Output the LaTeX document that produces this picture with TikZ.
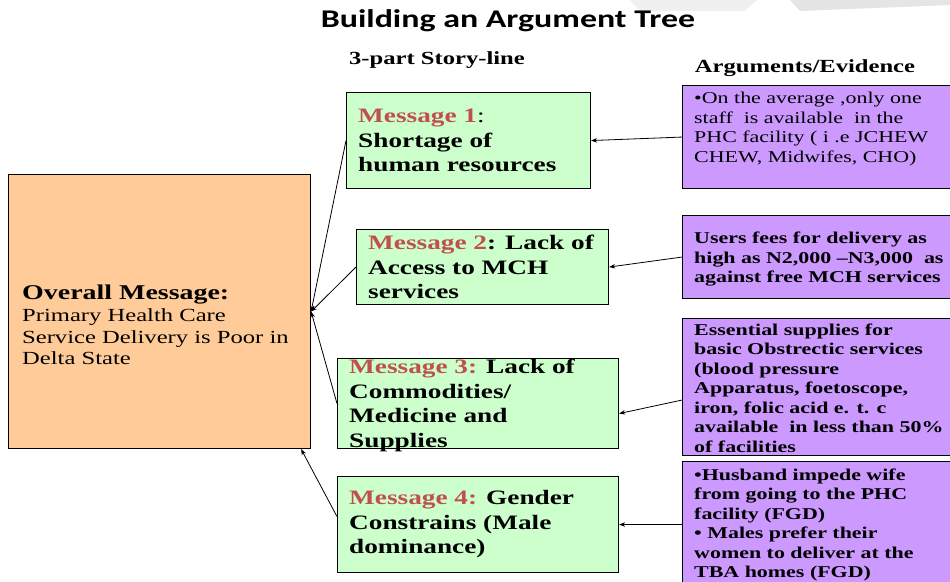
\documentclass[tikz,border=0pt]{standalone}
\usepackage{fontspec}
\newfontfamily\wideserif[FakeStretch=1.33]{Liberation Serif}
\newfontfamily\widesans[FakeStretch=1.33]{Carlito}
\usetikzlibrary{positioning,arrows.meta}
\definecolor{msggreen}{RGB}{204,255,204}
\definecolor{overallorange}{RGB}{255,204,153}
\definecolor{evpurple}{RGB}{204,153,255}
\definecolor{msgred}{RGB}{192,80,77}
\newcommand{\msg}[1]{\textcolor{msgred}{#1}}

\begin{document}
\begin{tikzpicture}
    [x=1pt, y=-1pt, >={Stealth[length=6pt,width=4.5pt]},
     box/.style={draw, line width=1.1pt, anchor=north west, inner sep=0pt},
     greenbox/.style={box, fill=msggreen},
     orangebox/.style={box, fill=overallorange},
     evbox/.style={box, fill=evpurple, minimum width=300pt},
     msgtext/.style={anchor=west, align=left, inner sep=0pt, font={\wideserif\bfseries\fontsize{20.5}{24.5}\selectfont}},
     evtext/.style={anchor=west, align=left, inner sep=0pt, font={\wideserif\bfseries\fontsize{16.5}{19.5}\selectfont}},
     head/.style={inner sep=0pt, font={\wideserif\bfseries\fontsize{18.5}{22}\selectfont}},
     link/.style={->, line width=0.8pt}]
  \useasboundingbox (0,0) rectangle (950,581);
  \clip (0,0) rectangle (950,581);

  % faint slide decoration, top right
  \fill[black!6] (630,0) -- (757,0) -- (745,11) -- (640,11) -- cycle;
  \fill[black!10] (790,0) -- (950,0) -- (950,5) -- (800,11) -- cycle;

  \node[inner sep=0pt, font={\widesans\bfseries\fontsize{25.5}{30}\selectfont}] (title) at (508,21) {Building an Argument Tree};
  \node[head] (story) at (437,60) {3-part Story-line};
  \node[head] (args) at (805,68) {Arguments/Evidence};

  % overall message
  \node[orangebox, minimum width=302pt, minimum height=274pt] (overall) at (8,174) {};
  \node[anchor=west, align=left, inner sep=0pt, font={\wideserif\fontsize{18.5}{21.5}\selectfont}] (overalltxt)
    at ([xshift=14pt,yshift=-13pt]overall.west)
    {{\bfseries\fontsize{21}{25}\selectfont Overall Message:}\\[1pt] Primary Health Care\\ Service Delivery is Poor in\\ Delta State};

  % story-line messages
  \node[greenbox, minimum width=244pt, minimum height=96pt] (m1) at (346,92) {};
  \node[greenbox, minimum width=252pt, minimum height=75pt] (m2) at (356,229) {};
  \node[greenbox, minimum width=281pt, minimum height=90pt] (m3) at (337,358) {};
  \node[greenbox, minimum width=281pt, minimum height=96pt] (m4) at (337,476) {};

  \node[msgtext] (t1) at ([xshift=12pt]m1.west) {\msg{Message 1}{\mdseries:}\\ Shortage of\\ human resources};
  \node[msgtext] (t2) at ([xshift=12pt]m2.west) {\msg{Message 2}: Lack of\\ Access to MCH\\ services};
  \node[msgtext] (t3) at ([xshift=12pt,yshift=-2pt]m3.west) {\msg{Message 3:} Lack of\\ Commodities/\\ Medicine and\\ Supplies};
  \node[msgtext] (t4) at ([xshift=12pt]m4.west) {\msg{Message 4:} Gender\\ Constrains (Male\\ dominance)};

  % evidence
  \node[evbox, minimum height=103pt] (e1) at (682,85) {};
  \node[evbox, minimum height=83pt] (e2) at (682,215) {};
  \node[evbox, minimum height=137pt] (e3) at (682,318) {};
  \node[evbox, minimum height=139pt] (e4) at (682,461) {};

  \node[evtext, font={\wideserif\fontsize{16.5}{19.5}\selectfont}] (v1) at ([xshift=12pt,yshift=8pt]e1.west)
    {\textbullet On the average ,only one\\ staff\ \ is available\ \ in the\\ PHC facility ( i .e JCHEW\\ CHEW, Midwifes, CHO)};
  \node[evtext] (v2) at ([xshift=12pt,yshift=-2pt]e2.west)
    {Users fees for delivery as\\ high as N2,000 –N3,000\ \ as\\ against free MCH services};
  \node[evtext] (v3) at ([xshift=12pt,yshift=-1pt]e3.west)
    {Essential supplies for\\ basic Obstrectic services\\ (blood pressure\\ Apparatus, foetoscope,\\ iron, folic acid e. t. c\\ available\ \ in less than 50\%\\ of facilities};
  \node[evtext] (v4) at ([xshift=12pt,yshift=6pt]e4.west)
    {\textbullet Husband impede wife\\ from going to the PHC\\ facility (FGD)\\ \textbullet\ Males prefer their\\ women to deliver at the\\ TBA homes (FGD)};

  % connectors
  \foreach \from in {m1, m2, m3}
    \draw[link] (\from.west) -- (overall.east);
  \draw[link] ([yshift=8pt]m4.west) -- ([xshift=-10pt]overall.south east);

  \draw[link] (e1.west) -- (m1.east);
  \draw[link] (e2.west) -- (m2.east);
  \draw[link] ([yshift=-13pt]e3.west) -- ([yshift=-10pt]m3.east);
  \draw[link] (e4.west |- m4.east) -- (m4.east);
\end{tikzpicture}
\end{document}
